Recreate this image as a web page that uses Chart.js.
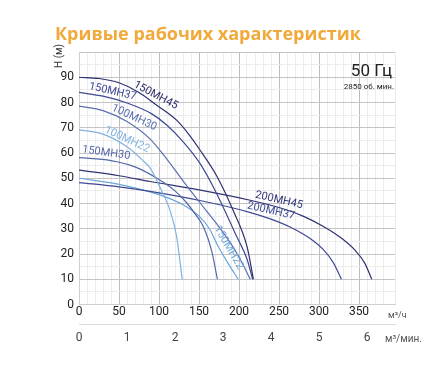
<!DOCTYPE html>
<html>
<head>
<meta charset="utf-8">
<script src="https://cdn.jsdelivr.net/npm/chart.js@4.4.1/dist/chart.umd.min.js"></script>
<style>
  html, body { margin: 0; padding: 0; background: #fff; }
  #wrap { width: 448px; height: 370px; }
</style>
</head>
<body>
<div id="wrap"><canvas id="pumpChart" width="448" height="370"></canvas></div>
<script>
  // Curve data: flow (m3/h) and head (m) per pump
  const q150MH45 = [0, 25, 50, 75, 96, 122, 137, 151, 172, 193, 210, 218];
  const h150MH45 = [90, 89.5, 87.8, 84, 79.2, 73, 67.5, 61.3, 51, 37, 23, 10];

  const q150MH37 = [0, 30, 60, 91, 110, 130, 152, 172, 197, 210, 217];
  const h150MH37 = [84, 82.5, 79.8, 75.5, 71, 64.5, 55.5, 44, 27, 18, 10];

  const q100MH30 = [0, 30, 60, 89, 110, 130, 152, 172, 190, 203, 214];
  const h100MH30 = [78.6, 76.8, 72.5, 65.5, 57.5, 49, 40, 32, 24, 17, 10];

  const q100MH22 = [0, 30, 60, 80, 89, 101, 114, 122, 129];
  const h100MH22 = [69.2, 67.5, 62.5, 57, 54, 46.6, 37, 27, 10];

  const q150MH30 = [0, 40, 70, 100, 120, 134, 146, 156, 166, 173];
  const h150MH30 = [58.2, 57, 54.5, 49.5, 45, 40.5, 35.5, 30.5, 21, 10];

  const q200MH45 = [0, 50, 89, 150, 214, 250, 280, 305, 327, 345, 357, 366];
  const h200MH45 = [53.2, 51, 48.7, 45.4, 41.3, 38.4, 35, 31, 26.5, 21.5, 16.5, 10];

  const q200MH37 = [0, 50, 89, 157, 210, 240, 265, 288, 306, 318, 328];
  const h200MH37 = [48.3, 46.6, 44.8, 40.8, 36.8, 33.8, 30.5, 26.3, 21.5, 16.5, 10];

  const q150MH22 = [0, 50, 100, 130, 150, 163, 174, 187, 199];
  const h150MH22 = [50, 47.6, 43.5, 39.5, 35, 30, 23, 16, 10];

  const pumpNames = ['150MH45', '150MH37', '100MH30', '100MH22', '150MH30', '200MH45', '200MH37', '150MH22'];

  const xTicks = [0, 50, 100, 150, 200, 250, 300, 350];
  const minTicks = [0, 1, 2, 3, 4, 5, 6];

  const toPoints = (q, h) => q.map((v, i) => ({ x: v, y: h[i] }));
  const curves = [
    toPoints(q150MH45, h150MH45),
    toPoints(q150MH37, h150MH37),
    toPoints(q100MH30, h100MH30),
    toPoints(q100MH22, h100MH22),
    toPoints(q150MH30, h150MH30),
    toPoints(q200MH45, h200MH45),
    toPoints(q200MH37, h200MH37),
    toPoints(q150MH22, h150MH22)
  ];

  const colors = ['#2d2f6e', '#3e4893', '#5a6fb0', '#7fb2df', '#5568a8', '#2f3373', '#3f4a94', '#6aa5d9'];

  // where each curve name sits (flow, head, angle in degrees)
  const curveLabels = [
    { x: 96, y: 82.8, a: 28 },
    { x: 42, y: 84.3, a: 13 },
    { x: 69, y: 74, a: 25 },
    { x: 60, y: 65.3, a: 25 },
    { x: 34, y: 60, a: 8 },
    { x: 250, y: 41.3, a: 13 },
    { x: 240, y: 37, a: 13 },
    { x: 187, y: 22.5, a: 60 }
  ];

  const FONT = 'Roboto, "DejaVu Sans", sans-serif';

  const extrasPlugin = {
    id: 'extras',
    afterDatasetsDraw(chart) {
      const ctx = chart.ctx;
      const xs = chart.scales.x, ys = chart.scales.y;
      ctx.save();
      ctx.font = '11px ' + FONT;
      ctx.textAlign = 'center';
      ctx.textBaseline = 'middle';
      curveLabels.forEach((l, i) => {
        ctx.save();
        ctx.translate(xs.getPixelForValue(l.x), ys.getPixelForValue(l.y));
        ctx.rotate(l.a * Math.PI / 180);
        ctx.fillStyle = colors[i];
        ctx.fillText(pumpNames[i], 0, 0);
        ctx.restore();
      });
      ctx.restore();
    },
    afterDraw(chart) {
      const ctx = chart.ctx;
      ctx.save();
      // title
      ctx.fillStyle = '#f2a93b';
      ctx.font = 'bold 18px "Open Sans", sans-serif';
      ctx.textAlign = 'left';
      ctx.textBaseline = 'middle';
      ctx.fillText('Кривые рабочих характеристик', 55, 35);

      // axis title
      ctx.save();
      ctx.translate(59, 56);
      ctx.rotate(-Math.PI / 2);
      ctx.fillStyle = '#333';
      ctx.font = '10px ' + FONT;
      ctx.textAlign = 'center';
      ctx.fillText('H (м)', 0, 0);
      ctx.restore();

      // frequency note
      ctx.textAlign = 'right';
      ctx.fillStyle = '#222';
      ctx.font = '17px ' + FONT;
      ctx.fillText('50 Гц', 392, 72);
      ctx.font = '8px ' + FONT;
      ctx.fillText('2850 об. мин.', 394, 87);

      // units
      ctx.textAlign = 'left';
      ctx.fillStyle = '#555';
      ctx.font = '9px ' + FONT;
      ctx.fillText('м³/ч', 388, 316);
      ctx.font = '10px ' + FONT;
      ctx.fillText('м³/мин.', 385, 339);
      ctx.restore();
    }
  };

  const ctx = document.getElementById('pumpChart').getContext('2d');
  const pumpChart = new Chart(ctx, {
    type: 'line',
    data: {
      datasets: curves.map((pts, i) => ({
        label: pumpNames[i],
        data: pts,
        borderColor: colors[i],
        borderWidth: 1.2,
        pointRadius: 0,
        fill: false,
        cubicInterpolationMode: 'monotone'
      }))
    },
    options: {
      responsive: false,
      animation: false,
      layout: { padding: { top: 52, right: 53, bottom: 15.5, left: 0 } },
      plugins: { legend: { display: false }, tooltip: { enabled: false } },
      scales: {
        x: {
          type: 'linear',
          min: 0,
          max: 395,
          weight: 0,
          afterFit: (s) => { s.height = 20; },
          border: { color: '#cfcfcf' },
          grid: {
            drawTicks: false,
            color: (c) => (c.tick && c.tick.value % 50 === 0 ? '#bdbdbd' : '#ececec')
          },
          ticks: {
            stepSize: 10,
            autoSkip: false,
            maxRotation: 0,
            padding: 0,
            color: '#222',
            font: { family: FONT, size: 12 },
            callback: (v) => (xTicks.includes(v) ? v : '')
          }
        },
        x2: {
          type: 'linear',
          position: 'bottom',
          min: 0,
          max: 395 / 60,
          weight: 1,
          afterFit: (s) => { s.height = 30; },
          afterBuildTicks: (s) => { s.ticks = minTicks.map((v) => ({ value: v })); },
          border: { color: '#dcdcdc' },
          grid: { display: false, drawTicks: false },
          ticks: {
            autoSkip: false,
            maxRotation: 0,
            padding: 6,
            color: '#444',
            font: { family: FONT, size: 12 }
          }
        },
        y: {
          type: 'linear',
          min: 0,
          max: 100,
          afterFit: (s) => { s.width = 79; },
          border: { color: '#cfcfcf' },
          grid: {
            drawTicks: false,
            color: (c) => (c.tick && c.tick.value % 10 === 0 ? '#c4c4c4' : '#ececec')
          },
          ticks: {
            stepSize: 5,
            autoSkip: false,
            padding: 5,
            color: '#222',
            font: { family: FONT, size: 12 },
            callback: (v) => (v % 10 === 0 && v < 100 ? v : '')
          }
        }
      }
    },
    plugins: [extrasPlugin]
  });
</script>
</body>
</html>
